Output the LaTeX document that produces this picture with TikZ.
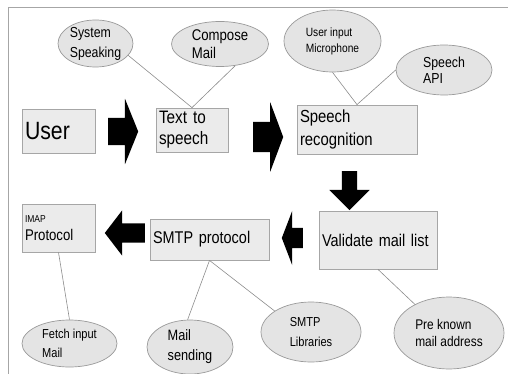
\documentclass[tikz,border=0pt]{standalone}
\usepackage{fontspec}
\setmainfont{Liberation Sans}[FakeStretch=0.85]
\usetikzlibrary{shapes.geometric,shapes.arrows}
\definecolor{boxfill}{HTML}{EBEBEB}
\definecolor{boxline}{HTML}{A6A6A6}
\definecolor{bubfill}{HTML}{E4E4E4}
\definecolor{bubline}{HTML}{9A9A9A}
\definecolor{wirecol}{HTML}{8C8C8C}
\tikzset{
  procbox/.style={draw=boxline, fill=boxfill, line width=0.8pt, inner xsep=3pt, inner ysep=0pt, align=left},
  bubble/.style={ellipse, draw=bubline, fill=bubfill, line width=0.7pt, inner sep=0pt, align=left},
  bigarrow/.style={single arrow, fill=black, inner xsep=0pt, anchor=tail},
  wire/.style={draw=wirecol, line width=0.6pt},
}
\begin{document}
\begin{tikzpicture}[x=1pt,y=-1pt]
\useasboundingbox (0,0) rectangle (508,374);
\draw[draw=gray!70, line width=0.8pt] (508,7) -- (8,7) -- (8,374);
% boxes
\node[procbox, text width=67, minimum height=44, font=\fontsize{25}{28}\selectfont] (user) at (58.5,131) {User};
\node[procbox, text width=66, minimum height=44, font=\fontsize{18}{21}\selectfont] (tts) at (192,130) {Text to\\speech};
\node[procbox, text width=114, minimum height=49, font=\fontsize{17.5}{23}\selectfont] (sr) at (357,129.5) {Speech\\recognition};
\node[procbox, text width=112, minimum height=58, font=\fontsize{17}{20}\selectfont] (val) at (378,240) {Validate mail list};
\node[procbox, text width=113, minimum height=41, font=\fontsize{17}{20}\selectfont] (smtp) at (209.5,239.5) {SMTP protocol};
\node[procbox, text width=67, minimum height=48, font=\fontsize{15.5}{18}\selectfont] (imap) at (58.5,228) {{\fontsize{10}{12}\selectfont IMAP}\\Protocol};
% ellipses
\node[bubble, minimum width=75, minimum height=47, font=\fontsize{14.5}{20}\selectfont] (sys) at (95.5,43.5) {System\\Speaking};
\node[bubble, minimum width=97, minimum height=45, font=\fontsize{15.5}{18}\selectfont] (comp) at (220,44) {Compose\\Mail};
\node[bubble, minimum width=97, minimum height=62, font=\fontsize{12}{16}\selectfont] (mic) at (332.5,41) {User input\\Microphone};
\node[bubble, minimum width=96, minimum height=50, font=\fontsize{14.5}{16.5}\selectfont] (api) at (444,70) {Speech\\API};
\node[bubble, minimum width=95, minimum height=47, font=\fontsize{13}{19}\selectfont] (fetch) at (69.5,343.5) {Fetch input\\Mail};
\node[bubble, minimum width=86, minimum height=54, font=\fontsize{15}{20}\selectfont] (send) at (190,347) {Mail\\sending};
\node[bubble, minimum width=100, minimum height=60, font=\fontsize{13}{20}\selectfont] (lib) at (311,332) {SMTP\\Libraries};
\node[bubble, minimum width=110, minimum height=72, font=\fontsize{14}{16.5}\selectfont] (pre) at (449,333) {Pre known\\mail address};
% block arrows
\node[bigarrow, minimum height=30, inner ysep=13.5, single arrow head extend=19, single arrow tip angle=136] (a1) at (108,131.5) {};
\node[bigarrow, minimum height=30, inner ysep=15, single arrow head extend=19.5, single arrow tip angle=139] (a2) at (253,137) {};
\node[bigarrow, rotate=-90, minimum height=39, inner ysep=7.5, single arrow head extend=12.5, single arrow tip angle=90] (a3) at (349.5,171) {};
\node[bigarrow, rotate=180, minimum height=21, inner ysep=10, single arrow head extend=17, single arrow tip angle=138] (a4) at (303,238) {};
\node[bigarrow, rotate=180, minimum height=40, inner ysep=9.5, single arrow head extend=13, single arrow tip angle=105] (a5) at (145,233) {};
% links
\draw[wire] (tts.north) -- (sys.-20);
\draw[wire] (tts.north) -- (comp.-55);
\draw[wire] (sr.north) -- (mic.south);
\draw[wire] (sr.north) -- (api.west);
\draw[wire] (val.south) -- (pre.140);
\draw[wire] (smtp.south) -- (send.95);
\draw[wire] (smtp.south) -- (lib.150);
\draw[wire] (imap.south) -- (fetch.north);
\end{tikzpicture}
\end{document}
